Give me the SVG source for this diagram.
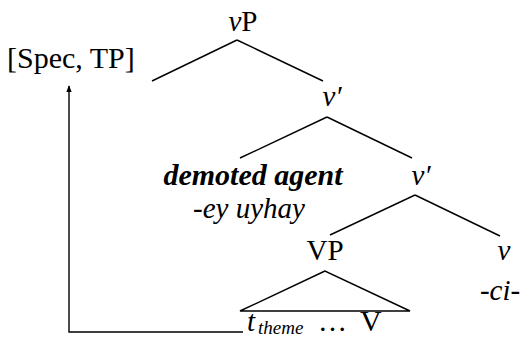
<svg xmlns="http://www.w3.org/2000/svg" width="520" height="339" viewBox="0 0 520 339">
<defs>
<style>
text{font-family:"Liberation Serif","Times New Roman",serif;font-size:29px;fill:#000}
.it{font-style:italic}
.bi{font-style:italic;font-weight:bold;font-size:30px}
.sub{font-size:19px;font-style:italic}
.big{font-size:30px}
line,polyline,polygon{stroke:#000;stroke-width:1.4;fill:none}
</style>
<marker id="ah" viewBox="0 0 10 10" refX="9" refY="5" markerWidth="7" markerHeight="8" orient="auto" markerUnits="userSpaceOnUse">
<path d="M0,1 L10,5 L0,9 Z" fill="#000"/>
</marker>
</defs>
<rect width="520" height="339" fill="#fff"/>
<g id="connectors">
<line x1="237" y1="40" x2="152" y2="81"/>
<line x1="237" y1="40" x2="323" y2="81"/>
<line x1="327" y1="117" x2="240" y2="158"/>
<line x1="327" y1="117" x2="412" y2="158"/>
<line x1="415" y1="195" x2="330" y2="235"/>
<line x1="415" y1="195" x2="500" y2="236"/>
<polyline points="243,332 69,332 69,86" marker-end="url(#ah)"/>
</g>
<g id="vP"><text x="243" y="31" text-anchor="middle"><tspan class="it">v</tspan>P</text></g>
<g id="specTP"><text x="7" y="68" class="big">[Spec, TP]</text></g>
<g id="vbar1"><text x="332" y="106" text-anchor="middle" class="it">v′</text></g>
<g id="agent">
<text x="253" y="185" text-anchor="middle" class="bi">demoted agent</text>
<text x="249" y="218" text-anchor="middle" class="it">-ey uyhay</text>
</g>
<g id="vbar2"><text x="421" y="185" text-anchor="middle" class="it">v′</text></g>
<g id="VP">
<text x="325" y="260" text-anchor="middle">VP</text>
<polygon points="325,271 240,311 410,311"/>
<text x="247" y="331"><tspan class="it">t</tspan><tspan class="sub" x="258" dy="3">theme</tspan><tspan x="318" dy="-3">…</tspan><tspan x="360" class="big">V</tspan></text>
</g>
<g id="v">
<text x="504" y="260" text-anchor="middle" class="it">v</text>
<text x="500" y="300" text-anchor="middle" class="it">-ci-</text>
</g>
</svg>
